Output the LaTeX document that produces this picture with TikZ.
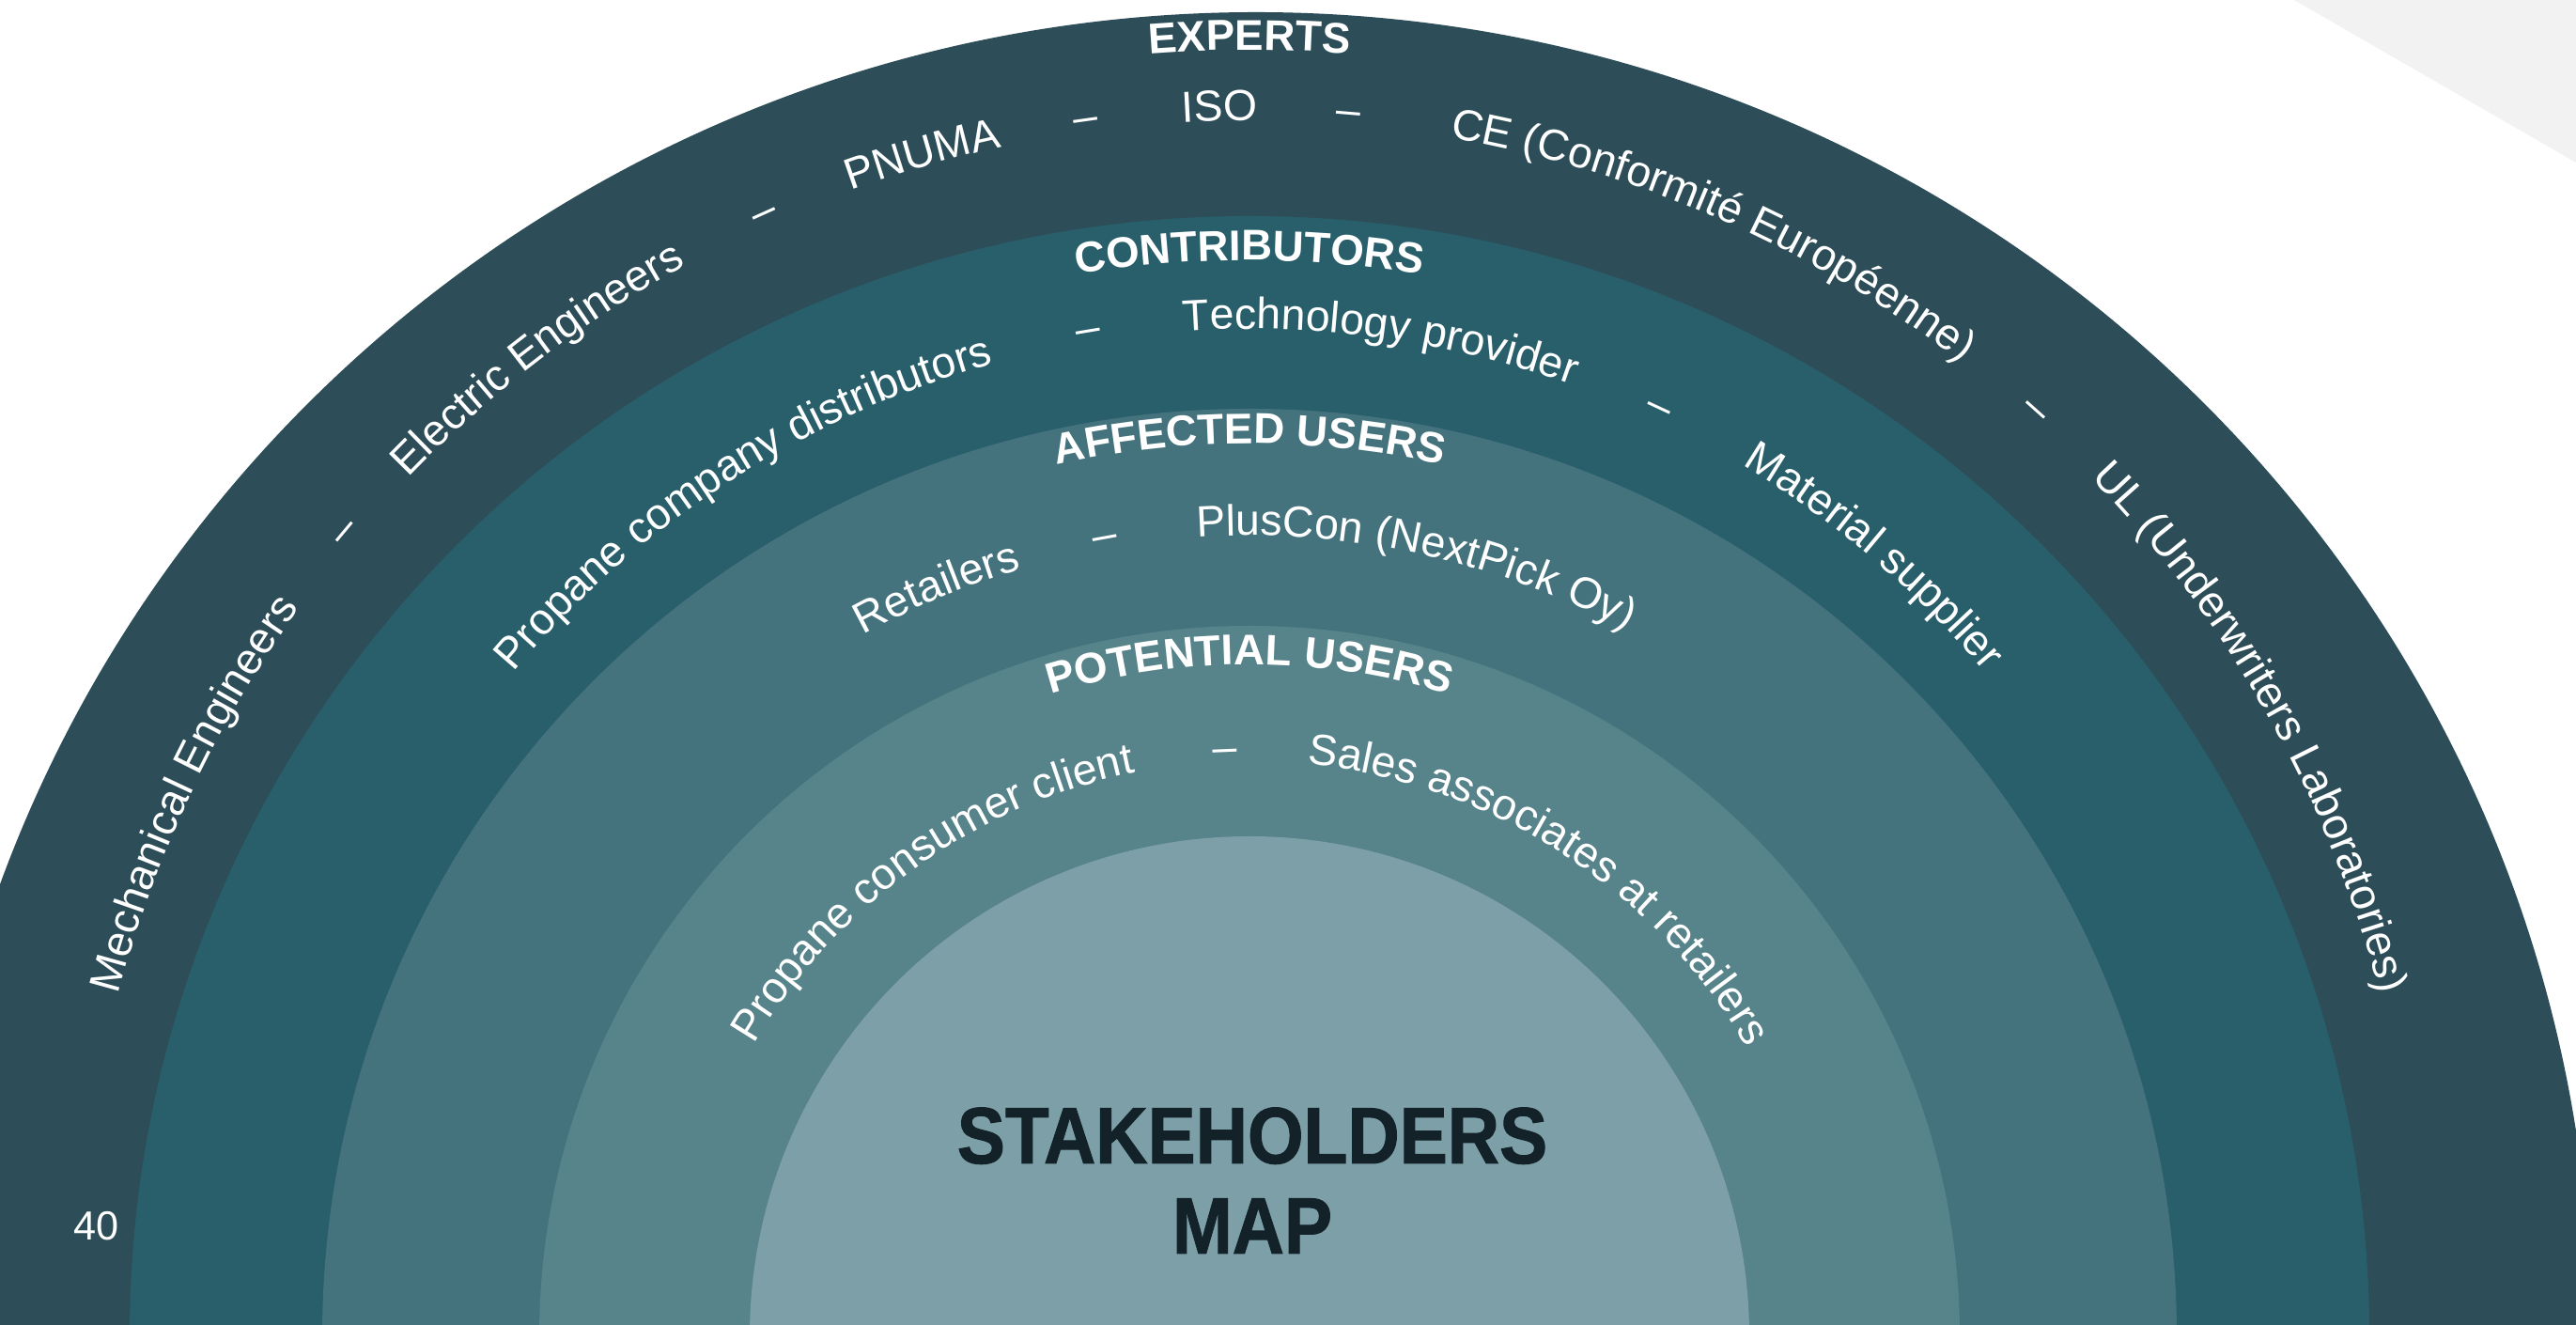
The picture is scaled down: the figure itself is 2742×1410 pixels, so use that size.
\documentclass[tikz,border=0pt]{standalone}
\usepackage{fontspec}
\setmainfont{Liberation Sans}
\newfontfamily\mapfont[FakeStretch=0.9,FakeBold=1.2]{Liberation Sans}
\usetikzlibrary{decorations.text}

\definecolor{ringA}{HTML}{2D4E58}
\definecolor{ringB}{HTML}{285F6B}
\definecolor{ringC}{HTML}{44737E}
\definecolor{ringD}{HTML}{57838A}
\definecolor{ringE}{HTML}{7D9FA7}
\definecolor{inkdark}{HTML}{132228}
\definecolor{marble}{HTML}{F2F2F2}

% label fonts
\newcommand\itemfont{\fontsize{13.2}{16}\selectfont}
\newcommand\headfont{\fontsize{13}{16}\selectfont\bfseries}

% white text centred at angle #3 along a circle of radius #4 about (1330,#2)
\newcommand\arclabel[5]{%
  \path[decorate, decoration={text along path, text align=center,
        text color=white, text={|#1|#5}}]
    (1330,#2) ++({#3+40}:#4) arc[start angle={#3+40}, end angle={#3-40}, radius=#4];}

\begin{document}
\begin{tikzpicture}[x=0.01cm, y=0.01cm]
  \useasboundingbox (0,0) rectangle (2742,1410);
  % page
  \fill[white] (0,0) rectangle (2742,1410);
  \fill[marble] (2442,1410) -- (2742,1410) -- (2742,1237) -- cycle;

  % concentric bands
  \begin{scope}
    \clip (0,0) rectangle (2742,1410);
    \fill[ringA] (1337,-12) ellipse [x radius=1422, y radius=1409];
    \fill[ringB] (1330,-12) circle [radius=1192];
    \fill[ringC] (1330,-12) circle [radius=987];
    \fill[ringD] (1330,-12) circle [radius=756];
    \fill[ringE] (1330,-12) circle [radius=532];
  \end{scope}

  % experts
  \arclabel{\headfont}{-12}{90}{1369}{EXPERTS}
  \arclabel{\itemfont}{38}{154.9}{1244}{Mechanical Engineers}
  \arclabel{\itemfont}{38}{140.1}{1244}{–}
  \arclabel{\itemfont}{38}{127.45}{1244}{Electric Engineers}
  \arclabel{\itemfont}{38}{114.3}{1244}{–}
  \arclabel{\itemfont}{38}{106.1}{1244}{PNUMA}
  \arclabel{\itemfont}{38}{98.0}{1244}{–}
  \arclabel{\itemfont}{38}{91.46}{1244}{ISO}
  \arclabel{\itemfont}{38}{85.21}{1244}{–}
  \arclabel{\itemfont}{38}{66.3}{1244}{CE (Conformité Européenne)}
  \arclabel{\itemfont}{38}{48.2}{1244}{–}
  \arclabel{\itemfont}{38}{29.3}{1244}{UL (Underwriters Laboratories)}

  % contributors
  \arclabel{\headfont}{-12}{90}{1145}{CONTRIBUTORS}
  \arclabel{\itemfont}{38}{122.75}{1022}{Propane company distributors}
  \arclabel{\itemfont}{38}{99.55}{1022}{–}
  \arclabel{\itemfont}{38}{82.14}{1022}{Technology provider}
  \arclabel{\itemfont}{38}{65.07}{1022}{–}
  \arclabel{\itemfont}{38}{49.57}{1022}{Material supplier}

  % affected users
  \arclabel{\headfont}{-12}{90}{950}{AFFECTED USERS}
  \arclabel{\itemfont}{-12}{112.7}{852}{Retailers}
  \arclabel{\itemfont}{-12}{100.3}{852}{–}
  \arclabel{\itemfont}{-12}{77.8}{852}{PlusCon (NextPick Oy)}

  % potential users
  \arclabel{\headfont}{-12}{90}{715}{POTENTIAL USERS}
  \arclabel{\itemfont}{-12}{125.5}{612}{Propane consumer client}
  \arclabel{\itemfont}{-12}{92.4}{612}{–}
  \arclabel{\itemfont}{-12}{57.2}{612}{Sales associates at retailers}

  % centre title and page number
  \node[anchor=base, inner sep=0pt, text=inkdark, font=\mapfont\bfseries\fontsize{24.2}{29}\selectfont]
    (maptitle) at (1333,172) {STAKEHOLDERS};
  \node[anchor=base, inner sep=0pt, text=inkdark, font=\mapfont\bfseries\fontsize{24.2}{29}\selectfont]
    (mapsub) at (1333,76) {MAP};
  \node[anchor=base west, inner sep=0pt, text=white, font=\fontsize{12.3}{15}\selectfont]
    (pagenum) at (78,90) {40};
\end{tikzpicture}
\end{document}
